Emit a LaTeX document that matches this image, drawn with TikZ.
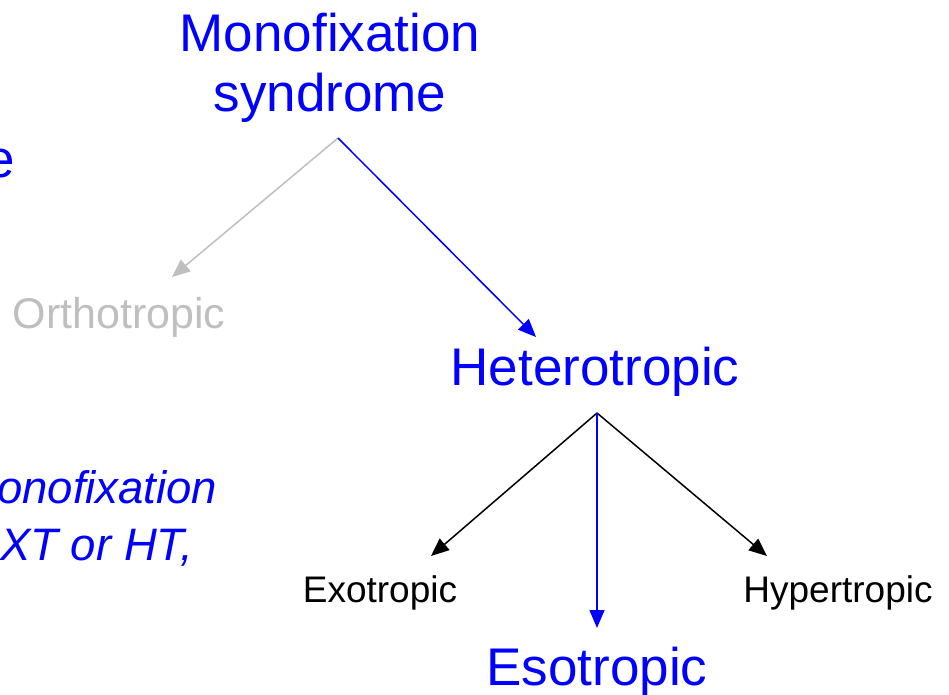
\documentclass[tikz,border=0pt]{standalone}
\usepackage{fontspec}
\setmainfont{Liberation Sans}
\usetikzlibrary{positioning}
\usetikzlibrary{arrows.meta}

\definecolor{mfsblue}{RGB}{0,0,255}
\definecolor{mfsgray}{RGB}{191,191,191}

\tikzset{
	big/.style={font=\fontsize{53}{60}\selectfont, inner sep=0pt, anchor=base},
	mid/.style={font=\fontsize{43}{50}\selectfont, inner sep=0pt, anchor=base},
	small/.style={font=\fontsize{37}{44}\selectfont, inner sep=0pt, anchor=base},
	note/.style={font=\fontsize{45.5}{50}\selectfont\itshape, text=mfsblue, inner sep=0pt, anchor=base west},
	branch/.style={line width=1.5pt, -{Triangle[length=18pt,width=15pt]}}
}

\begin{document}
\begin{tikzpicture}[x=1pt, y=-1pt]
		\useasboundingbox (0,0) rectangle (949,695);
		% top of the tree
		\node[big, text=mfsblue] (mfs1) at (330,52) {Monofixation};
		\node[big, text=mfsblue] (mfs2) at (330,112) {syndrome};
		\node[big, text=mfsblue, anchor=base west] (e) at (-15,178) {e};
		\node[mid, text=mfsgray] (ortho) at (119,328) {Orthotropic};
		\node[big, text=mfsblue] (hetero) at (595,385) {Heterotropic};
		% kinds of heterotropia
		\node[small] (exo) at (380,602) {Exotropic};
		\node[small] (hyper) at (838,602) {Hypertropic};
		\node[big, text=mfsblue] (eso) at (597,685) {Esotropic};
		% note on the left, cut at the edge
		\node[note] (note1) at (-3,503) {onofixation};
		\node[note] (note2) at (0,560) {XT or HT,};
		% branch points and arrow ends
		\coordinate (mfsfork) at (338,138);
		\coordinate (heterofork) at (597,413);
		\coordinate (orthoend) at (172,277);
		\coordinate (heteroend) at (536,337);
		\coordinate (exoend) at (431,556);
		\coordinate (hyperend) at (767,556);
		\coordinate (esoend) at (597,628);
		\draw[branch, mfsgray] (mfsfork) -- (orthoend);
		\draw[branch, mfsblue] (mfsfork) -- (heteroend);
		\draw[branch, black] (heterofork) -- (exoend);
		\draw[branch, black] (heterofork) -- (hyperend);
		\draw[branch, mfsblue] (heterofork) -- (esoend);
	\end{tikzpicture}
\end{document}
